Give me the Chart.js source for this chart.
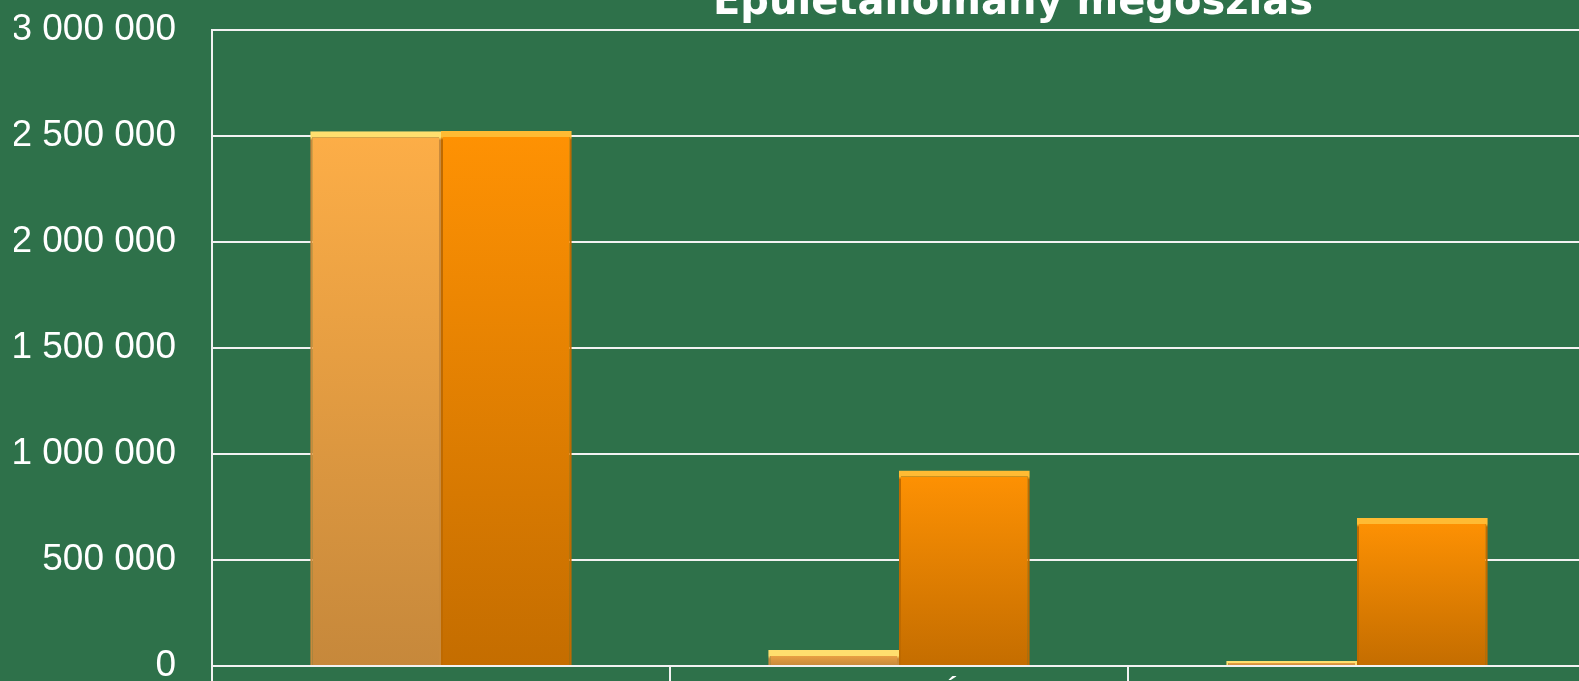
<!DOCTYPE html>
<html>
<head>
<meta charset="utf-8">
<script src="https://cdn.jsdelivr.net/npm/chart.js@4.4.1/dist/chart.umd.min.js"></script>
<style>
    html, body { margin: 0; padding: 0; background: #2e714a; overflow: hidden; }
    #wrap { position: relative; width: 1600px; height: 740px; }
</style>
</head>
<body>
<div id="wrap"><canvas id="epulet-graphic"></canvas></div>
<script>
    const chartTitle = 'Épületállomány megoszlás';
    const categories = ['Lakóépület', 'Gazdasági Épület', 'Egyéb épület'];
    const series1 = [2522000, 76000, 23000];
    const series2 = [2524000, 922000, 698000];
    const yTicks = [0, 500000, 1000000, 1500000, 2000000, 2500000, 3000000];

    (function () {
        const graphic = document.querySelector('#epulet-graphic');

        // gradient per bar, from the top of the bar down to the zero line
        function barFill(top, bottom) {
            return function (ctx) {
                const chart = ctx.chart;
                if (!chart.chartArea || !chart.scales.y) return top;
                const y = chart.scales.y;
                const y0 = y.getPixelForValue(0);
                const y1 = y.getPixelForValue(ctx.raw);
                const g = chart.ctx.createLinearGradient(0, y1, 0, y0 === y1 ? y1 + 1 : y0);
                g.addColorStop(0, top);
                g.addColorStop(1, bottom);
                return g;
            };
        }

        // yellow bevel on top, darker edge on the sides
        function barEdge(light, dark) {
            return function (ctx) {
                const chart = ctx.chart;
                if (!chart.chartArea || !chart.scales.y) return dark;
                const y1 = chart.scales.y.getPixelForValue(ctx.raw);
                const g = chart.ctx.createLinearGradient(0, y1, 0, y1 + 9);
                g.addColorStop(0, light);
                g.addColorStop(0.65, light);
                g.addColorStop(1, dark);
                return g;
            };
        }

        const titlePlugin = {
            id: 'cutTitle',
            afterDraw(chart) {
                const c = chart.ctx;
                c.save();
                c.font = 'bold 40px "DejaVu Sans"';
                c.fillStyle = '#ffffff';
                c.textAlign = 'center';
                c.textBaseline = 'alphabetic';
                c.fillText(chartTitle, 1013, 14);
                c.restore();
            }
        };

        new Chart(graphic, {
            type: 'bar',
            data: {
                labels: categories,
                datasets: [{
                    label: 'Sorozat 1',
                    data: series1,
                    backgroundColor: barFill('#fdae47', '#c6883b'),
                    borderColor: barEdge('#ffdf6e', '#c98a3c'),
                    borderWidth: { top: 6, left: 2, right: 2, bottom: 0 },
                    borderSkipped: false,
                }, {
                    label: 'Sorozat 2',
                    data: series2,
                    backgroundColor: barFill('#ff9203', '#c46d00'),
                    borderColor: barEdge('#ffbb33', '#bf6a00'),
                    borderWidth: { top: 6, left: 2, right: 2, bottom: 0 },
                    borderSkipped: false,
                }]
            },
            options: {
                responsive: true,
                maintainAspectRatio: false,
                animation: false,
                layout: {
                    padding: { top: 30, left: 14, right: 14, bottom: 0 }
                },
                datasets: {
                    bar: {
                        categoryPercentage: 0.571,
                        barPercentage: 1
                    }
                },
                scales: {
                    x: {
                        offset: true,
                        afterFit: (s) => {
                            s.height = 74;
                            s.paddingLeft = 0;
                            s.paddingRight = 0;
                        },
                        grid: {
                            offset: true,
                            drawOnChartArea: false,
                            color: '#f2f2f2',
                            lineWidth: 2,
                            tickLength: 20
                        },
                        border: { display: false },
                        ticks: {
                            color: '#ffffff',
                            padding: -10,
                            maxRotation: 0,
                            font: { family: '"Liberation Sans"', size: 36 }
                        }
                    },
                    y: {
                        min: 0,
                        max: 3000000,
                        afterBuildTicks: (axis) => {
                            axis.ticks = yTicks.map(v => ({ value: v }));
                        },
                        afterFit: (s) => {
                            s.width = 198;
                            s.paddingTop = 0;
                            s.paddingBottom = 0;
                        },
                        grid: {
                            color: '#f2f2f2',
                            lineWidth: 2,
                            drawTicks: false
                        },
                        border: { display: true, color: '#f2f2f2', width: 2 },
                        ticks: {
                            color: '#ffffff',
                            padding: 36,
                            font: { family: '"Liberation Sans"', size: 37 },
                            callback: (v) => String(v).replace(/\B(?=(\d{3})+(?!\d))/g, ' ')
                        }
                    }
                },
                plugins: {
                    legend: { display: false },
                    tooltip: { enabled: false }
                }
            },
            plugins: [titlePlugin]
        });
    })();
</script>
</body>
</html>
